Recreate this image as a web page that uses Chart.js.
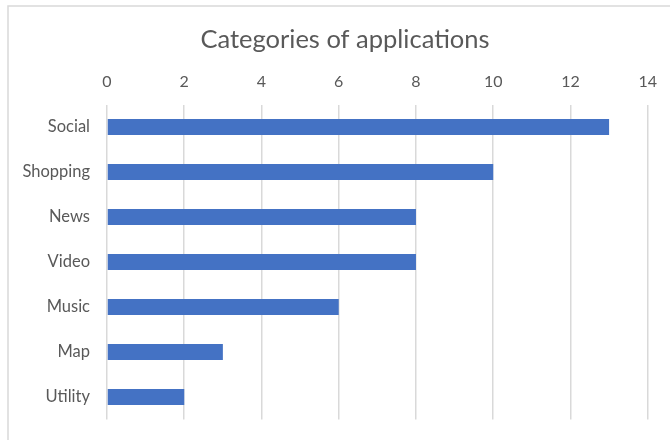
<!DOCTYPE html>
<html>
<head>
<meta charset="utf-8">
<script src="https://cdn.jsdelivr.net/npm/chart.js"></script>
<style>
  html, body { margin: 0; padding: 0; background: #fff; }
  #wrap { width: 670px; height: 440px; }
</style>
</head>
<body>
<div id="wrap"><canvas id="chartCanvas" width="670" height="440"></canvas></div>
<script>
// Chart data
const chartTitle = 'Categories of applications';
const categories = ['Social', 'Shopping', 'News', 'Video', 'Music', 'Map', 'Utility'];
const appCounts = [13, 10, 8, 8, 6, 3, 2];
const xTicks = [0, 2, 4, 6, 8, 10, 12, 14];

const textColor = '#595959';
const gridColor = '#d9d9d9';

// Excel-like frame round the chart, and the title centred on that frame
const framePlugin = {
  id: 'frame',
  beforeDraw(chart) {
    const ctx = chart.ctx;
    ctx.save();
    ctx.fillStyle = '#fff';
    ctx.fillRect(0, 0, chart.width, chart.height);
    ctx.strokeStyle = gridColor;
    ctx.lineWidth = 1.5;
    ctx.strokeRect(8, 6, 800, 600);
    ctx.restore();
  },
  afterDraw(chart) {
    const ctx = chart.ctx;
    ctx.save();
    ctx.fillStyle = textColor;
    ctx.font = '25.5px Lato';
    ctx.textAlign = 'center';
    ctx.textBaseline = 'middle';
    ctx.fillText(chartTitle, 345, 40);
    ctx.restore();
  }
};

const chart = new Chart(document.getElementById('chartCanvas'), {
  type: 'bar',
  data: {
    labels: categories,
    datasets: [{
      label: 'Apps',
      data: appCounts,
      backgroundColor: '#4472C4',
      borderWidth: 0,
      barPercentage: 0.36,
      categoryPercentage: 1
    }]
  },
  options: {
    indexAxis: 'y',
    responsive: false,
    animation: false,
    layout: { padding: { left: 0, right: 22, top: 55, bottom: 20.5 } },
    plugins: {
      legend: { display: false },
      tooltip: { enabled: false },
      title: { display: false }
    },
    scales: {
      x: {
        position: 'top',
        min: 0,
        max: 14,
        afterBuildTicks: (scale) => { scale.ticks = xTicks.map(v => ({ value: v })); },
        afterFit: (scale) => { scale.height = 49.5; },
        grid: { color: gridColor, lineWidth: 1.5, drawTicks: false },
        border: { display: false },
        ticks: { color: textColor, padding: 13, font: { family: 'Lato', size: 16 } }
      },
      y: {
        afterFit: (scale) => {
          scale.width = 107;
          scale.paddingTop = 0;
          scale.paddingBottom = 0;
        },
        grid: { display: false, drawTicks: false },
        border: { display: false },
        ticks: { color: textColor, padding: 17, font: { family: 'Lato', size: 16.5 } }
      }
    }
  },
  plugins: [framePlugin]
});
</script>
</body>
</html>
